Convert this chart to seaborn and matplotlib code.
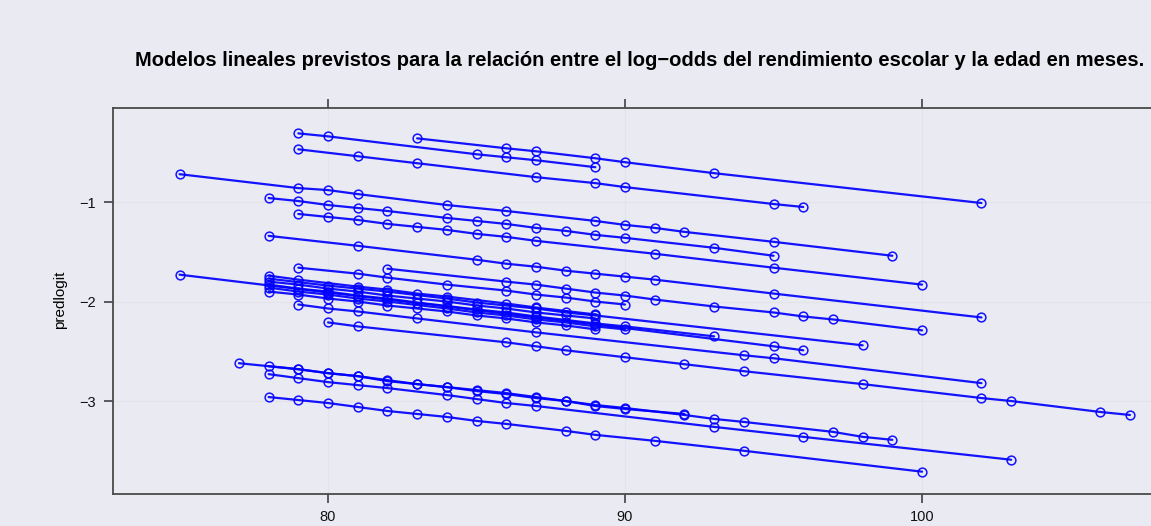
import numpy as np
import pandas as pd
import matplotlib
matplotlib.use("Agg")
import matplotlib.pyplot as plt
import seaborn as sns

# ---- data: one line per school (age in months, predicted log-odds) ----
A_age = [83, 86, 87, 89, 90, 93, 102]
A_val = [-0.36, -0.46, -0.49, -0.56, -0.60, -0.71, -1.01]
B_age = [79, 80, 85, 86, 87, 89]
B_val = [-0.31, -0.34, -0.52, -0.55, -0.58, -0.65]
C_age = [79, 81, 83, 87, 89, 90, 95, 96]
C_val = [-0.47, -0.54, -0.61, -0.75, -0.81, -0.85, -1.02, -1.05]
D_age = [75, 79, 80, 81, 84, 86, 89, 90, 91, 92, 95, 99]
D_val = [-0.72, -0.86, -0.88, -0.92, -1.03, -1.09, -1.19, -1.23, -1.26, -1.30, -1.40, -1.54]
E_age = [78, 79, 80, 81, 82, 84, 85, 86, 87, 88, 89, 90, 93, 95]
E_val = [-0.96, -0.99, -1.03, -1.06, -1.09, -1.16, -1.19, -1.22, -1.26, -1.29, -1.33, -1.36, -1.46, -1.54]
F_age = [79, 80, 81, 82, 83, 84, 85, 86, 87, 91, 95, 100]
F_val = [-1.12, -1.15, -1.18, -1.22, -1.25, -1.28, -1.32, -1.35, -1.39, -1.52, -1.66, -1.83]
G_age = [78, 81, 85, 86, 87, 88, 89, 90, 91, 95, 102]
G_val = [-1.34, -1.44, -1.58, -1.62, -1.65, -1.69, -1.72, -1.75, -1.78, -1.92, -2.16]
H_age = [79, 81, 82, 84, 86, 87, 88, 89, 90]
H_val = [-1.66, -1.72, -1.76, -1.83, -1.89, -1.93, -1.96, -2.00, -2.03]
I_age = [82, 86, 87, 88, 89, 90, 91, 93, 95, 96, 97, 100]
I_val = [-1.67, -1.80, -1.83, -1.87, -1.91, -1.94, -1.98, -2.05, -2.11, -2.15, -2.18, -2.29]
J_age = [75, 80, 84, 87, 89, 95, 96]
J_val = [-1.73, -1.91, -2.05, -2.16, -2.23, -2.45, -2.49]
K_age = [79, 80, 81, 83, 87, 94, 95, 102]
K_val = [-2.03, -2.07, -2.10, -2.17, -2.31, -2.54, -2.57, -2.82]
L_age = [80, 81, 86, 87, 88, 90, 92, 94, 98, 102, 103, 106, 107]
L_val = [-2.21, -2.25, -2.41, -2.45, -2.49, -2.56, -2.63, -2.70, -2.83, -2.97, -3.00, -3.11, -3.14]
N_age = [78, 80, 81, 82, 84, 85, 87, 88, 89, 98]
N_val = [-1.77, -1.84, -1.87, -1.90, -1.97, -2.01, -2.07, -2.11, -2.14, -2.44]
M1_age = [78, 79, 81, 82, 83, 84, 86, 87, 89]
M1_val = [-1.74, -1.78, -1.85, -1.88, -1.92, -1.95, -2.02, -2.06, -2.13]
M3_age = [78, 79, 80, 81, 82, 83, 85, 86, 87, 89, 90, 93]
M3_val = [-1.83, -1.87, -1.90, -1.94, -1.97, -2.01, -2.08, -2.11, -2.15, -2.22, -2.25, -2.35]
M4_age = [78, 79, 80, 81, 82, 83, 84, 85, 86, 87, 88, 89]
M4_val = [-1.80, -1.83, -1.87, -1.90, -1.94, -1.97, -2.00, -2.04, -2.07, -2.11, -2.14, -2.17]
M5_age = [78, 79, 80, 81, 82, 84, 85, 86, 87, 88, 89, 90]
M5_val = [-1.86, -1.90, -1.93, -1.97, -2.00, -2.07, -2.11, -2.14, -2.18, -2.21, -2.25, -2.28]
M6_age = [78, 79, 80, 81, 82, 83, 84, 85, 86, 87, 88, 89]
M6_val = [-1.90, -1.93, -1.97, -2.00, -2.04, -2.07, -2.10, -2.14, -2.17, -2.21, -2.24, -2.28]
Q_age = [78, 79, 80, 81, 82, 83, 84, 85, 86, 87, 88, 89, 90, 92, 93, 94, 97, 98, 99]
Q_val = [-2.65, -2.68, -2.72, -2.75, -2.79, -2.83, -2.86, -2.90, -2.93, -2.97, -3.00, -3.04,
         -3.07, -3.14, -3.18, -3.21, -3.31, -3.36, -3.39]
T_age = [77, 79, 80, 81, 82, 83, 84, 85, 86, 87, 88, 89, 90, 92]
T_val = [-2.62, -2.68, -2.72, -2.75, -2.80, -2.83, -2.86, -2.89, -2.92, -2.96, -3.00, -3.05, -3.08, -3.13]
R_age = [78, 79, 80, 81, 82, 84, 85, 86, 87, 93, 96, 103]
R_val = [-2.73, -2.77, -2.81, -2.84, -2.87, -2.94, -2.98, -3.02, -3.05, -3.26, -3.36, -3.59]
S_age = [78, 79, 80, 81, 82, 83, 84, 85, 86, 88, 89, 91, 94, 100]
S_val = [-2.96, -2.99, -3.02, -3.06, -3.10, -3.13, -3.16, -3.20, -3.23, -3.30, -3.34, -3.40, -3.50, -3.71]

groups = {
    "A": (A_age, A_val), "B": (B_age, B_val), "C": (C_age, C_val), "D": (D_age, D_val),
    "E": (E_age, E_val), "F": (F_age, F_val), "G": (G_age, G_val), "H": (H_age, H_val),
    "I": (I_age, I_val), "J": (J_age, J_val), "K": (K_age, K_val), "L": (L_age, L_val),
    "N": (N_age, N_val), "M1": (M1_age, M1_val), "M3": (M3_age, M3_val),
    "M4": (M4_age, M4_val), "M5": (M5_age, M5_val), "M6": (M6_age, M6_val),
    "Q": (Q_age, Q_val), "T": (T_age, T_val), "R": (R_age, R_val), "S": (S_age, S_val),
}
rows = []
for g, (ages, vals) in groups.items():
    for a, v in zip(ages, vals):
        rows.append({"school": g, "age": a, "predlogit": v})
df = pd.DataFrame(rows)

BG = "#EAEAF2"
sns.set_theme(style="darkgrid")
sns.set_style("darkgrid", {"axes.facecolor": BG, "figure.facecolor": BG,
                           "grid.color": "#E4E4E8", "axes.edgecolor": "#4a4a4a"})
plt.rcParams["font.family"] = ["Liberation Sans", "DejaVu Sans"]

W, H = 1151, 526
fig = plt.figure(figsize=(W / 100, H / 100), dpi=100)
fig.patch.set_facecolor(BG)

px_per_x = 29.7
px_per_y = 99.5
x0, x1 = 72.76, 108.6
y0, y1 = -3.935, -0.055
left_px, top_px = 113, 108
ax_w = (x1 - x0) * px_per_x
ax_h = (y1 - y0) * px_per_y
ax = fig.add_axes([left_px / W, (H - top_px - ax_h) / H, ax_w / W, ax_h / H])
ax.set_facecolor(BG)

sns.lineplot(data=df, x="age", y="predlogit", units="school", estimator=None,
             sort=True, color="#0000FF", lw=1.6, alpha=0.92,
             marker="o", markersize=6.3, markerfacecolor="none",
             markeredgecolor="#0000FF", markeredgewidth=1.1, legend=False, ax=ax)

ax.set_xlim(x0, x1)
ax.set_ylim(y0, y1)
ax.set_xticks([80, 90, 100])
ax.set_yticks([-1, -2, -3])
ax.grid(True, color="#E4E4E8", lw=0.8)
for s in ["left", "top", "bottom", "right"]:
    ax.spines[s].set_visible(True)
    ax.spines[s].set_color("#4a4a4a")
    ax.spines[s].set_linewidth(1.3)
ax.tick_params(axis="x", which="both", bottom=True, top=True, labelbottom=True,
               labeltop=False, direction="out", length=6.5, width=1.1, color="#333333",
               pad=5, labelsize=10.5, labelcolor="#111111")
ax.tick_params(axis="y", which="both", left=True, right=False, labelleft=True,
               direction="out", length=6.5, width=1.1, color="#333333",
               pad=6, labelsize=10.5, labelcolor="#111111")
ax.set_xlabel("")
ax.set_ylabel("")

fig.text(640 / W, 1 - 60 / H,
         "Modelos lineales previstos para la relación entre el log\u2212odds del rendimiento escolar y la edad en meses.",
         ha="center", va="center", fontsize=14.5, fontweight="bold", color="black")
fig.text(60 / W, 1 - 300 / H, "predlogit", rotation=90, ha="center", va="center",
         fontsize=11, color="black")

fig.savefig("out.png", dpi=100, facecolor=BG)
